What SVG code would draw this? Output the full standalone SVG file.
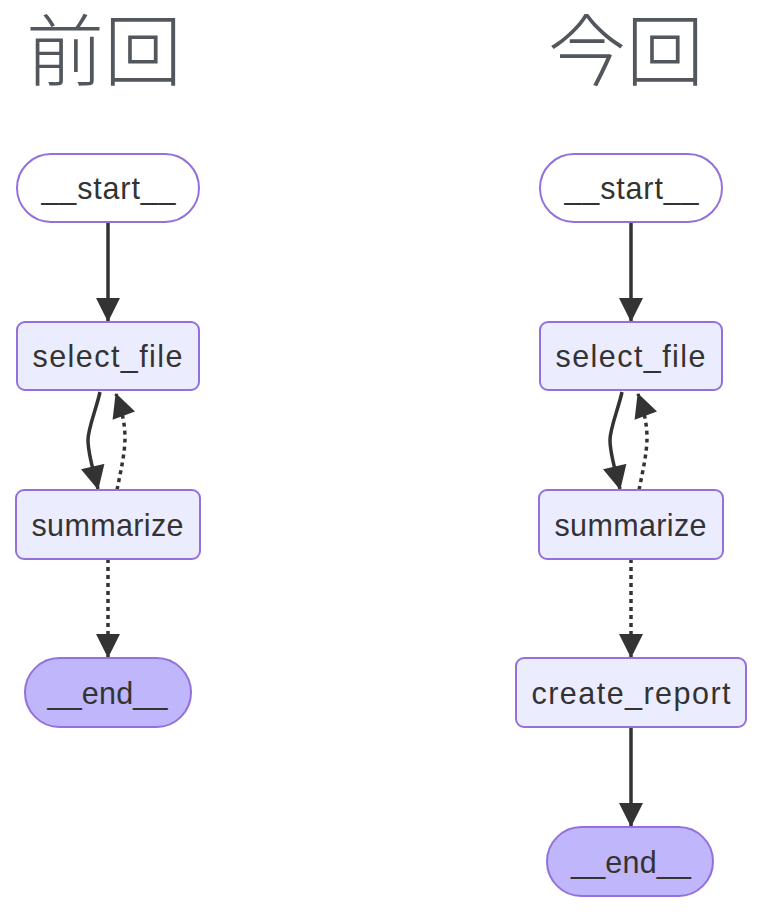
<svg xmlns="http://www.w3.org/2000/svg" width="762" height="912" viewBox="0 0 762 912">
<defs>
<style>
.title{font-family:"Noto Sans CJK JP","Noto Sans CJK SC",sans-serif;font-size:78px;font-weight:300;fill:#52575e}
.node rect{fill:#ECECFF;stroke:#9370DB;stroke-width:2}
.node.start rect{fill:#ffffff}
.node.end rect{fill:#BFB6FC}
.node text{font-family:"Liberation Sans",Arial,sans-serif;font-size:30.5px;fill:#333;text-anchor:middle}
.edge{fill:none;stroke:#333;stroke-width:3.5}
.dotted{stroke-dasharray:4 4}
</style>
<marker id="arrow" viewBox="0 0 24 24" refX="23" refY="12" markerWidth="25" markerHeight="24" markerUnits="userSpaceOnUse" orient="auto">
<path d="M0,0 L24,12 L0,24 z" fill="#333"/>
</marker>
</defs>
<rect width="762" height="912" fill="#ffffff"/>
<text class="title" x="26" y="80">前回</text>
<text class="title" x="548" y="80">今回</text>

<g id="connectors">
<path class="edge" d="M108,223 L108,321" marker-end="url(#arrow)"/>
<path class="edge" d="M100,392 C96,410 88,428 88,440 C88,455 94,472 98,489" marker-end="url(#arrow)"/>
<path class="edge dotted" d="M117,490 C121,470 125,452 125,438 C125,420 120,405 116,394" marker-end="url(#arrow)"/>
<path class="edge dotted" d="M108,559 L108,657" marker-end="url(#arrow)"/>

<path class="edge" d="M631,223 L631,321" marker-end="url(#arrow)"/>
<path class="edge" d="M622,392 C618,410 610,428 610,440 C610,455 616,472 620,489" marker-end="url(#arrow)"/>
<path class="edge dotted" d="M639,490 C643,470 647,452 647,438 C647,420 642,405 638,394" marker-end="url(#arrow)"/>
<path class="edge dotted" d="M631,559 L631,657" marker-end="url(#arrow)"/>
<path class="edge" d="M631,727 L631,826" marker-end="url(#arrow)"/>
</g>

<g id="L_start" class="node start">
<rect x="17" y="154" width="182" height="68" rx="34"/>
<text x="108.5" y="198.5" textLength="134" lengthAdjust="spacing">__start__</text>
</g>
<g id="L_select_file" class="node">
<rect x="17" y="322" width="182" height="68" rx="8"/>
<text x="107.5" y="367" textLength="150" lengthAdjust="spacing">select_file</text>
</g>
<g id="L_summarize" class="node">
<rect x="16" y="490" width="184" height="69" rx="8"/>
<text x="107.5" y="536" textLength="152" lengthAdjust="spacing">summarize</text>
</g>
<g id="L_end" class="node end">
<rect x="25" y="658" width="166" height="69" rx="34.5"/>
<text x="107.5" y="703.5" textLength="120" lengthAdjust="spacing">__end__</text>
</g>

<g id="R_start" class="node start">
<rect x="540" y="154" width="182" height="68" rx="34"/>
<text x="631.5" y="198.5" textLength="134" lengthAdjust="spacing">__start__</text>
</g>
<g id="R_select_file" class="node">
<rect x="540" y="322" width="182" height="68" rx="8"/>
<text x="630.5" y="367" textLength="150" lengthAdjust="spacing">select_file</text>
</g>
<g id="R_summarize" class="node">
<rect x="539" y="490" width="184" height="69" rx="8"/>
<text x="630.5" y="536" textLength="152" lengthAdjust="spacing">summarize</text>
</g>
<g id="R_create_report" class="node">
<rect x="516" y="658" width="230" height="69" rx="8"/>
<text x="631" y="703.5" textLength="199" lengthAdjust="spacing">create_report</text>
</g>
<g id="R_end" class="node end">
<rect x="547" y="827" width="166" height="69" rx="34.5"/>
<text x="631" y="872.5" textLength="120" lengthAdjust="spacing">__end__</text>
</g>
</svg>
